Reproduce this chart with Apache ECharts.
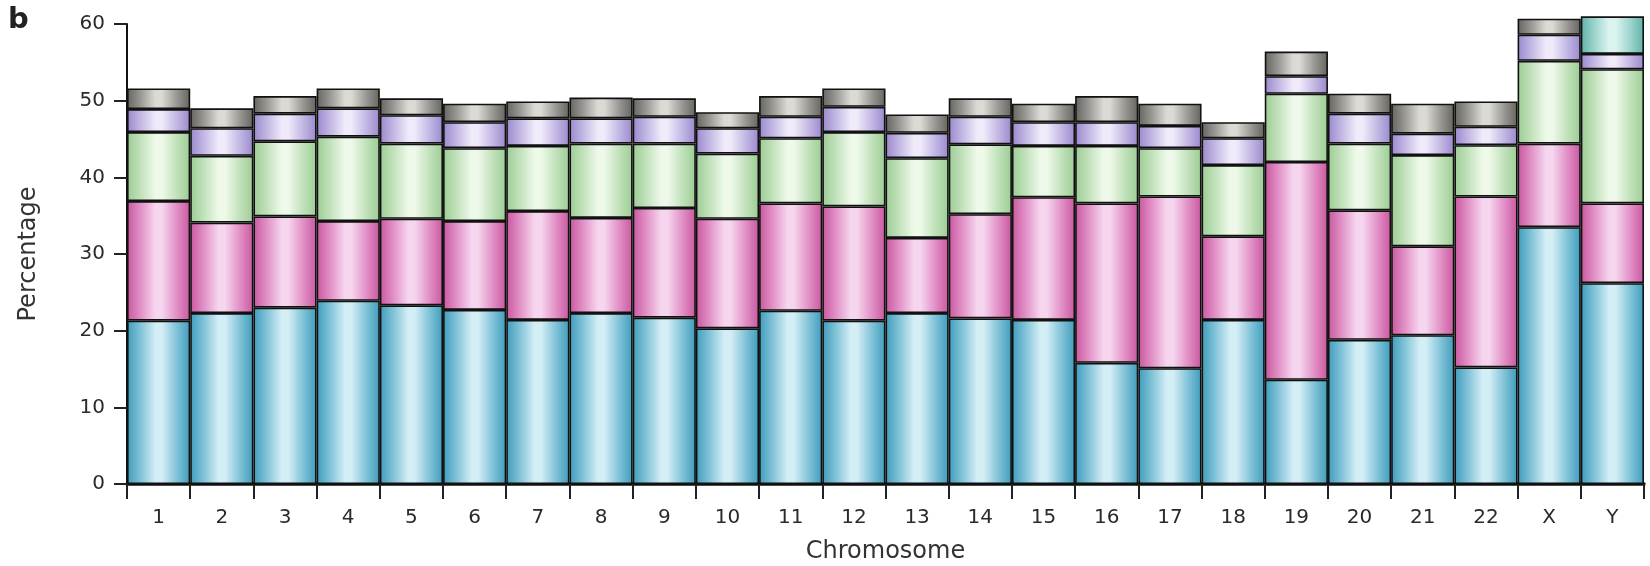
<!DOCTYPE html>
<html><head><meta charset="utf-8">
<script src="https://cdn.jsdelivr.net/npm/echarts@6/dist/echarts.min.js"></script>
<style>html,body{margin:0;padding:0;background:#fff}#c{width:1650px;height:566px}</style>
</head><body><div id="c"></div>
<script>
const categories = ['1','2','3','4','5','6','7','8','9','10','11','12','13','14','15','16','17','18','19','20','21','22','X','Y'];
const blueSeg   = [21.3,22.3,23.0,23.9,23.3,22.7,21.4,22.3,21.7,20.3,22.6,21.3,22.3,21.6,21.4,15.8,15.1,21.4,13.6,18.8,19.4,15.2,33.5,26.2];
const pinkSeg   = [15.6,11.8,11.9,10.4,11.3,11.6,14.2,12.4,14.3,14.3,14.0,14.9,9.8,13.6,16.0,20.8,22.4,10.9,28.4,16.9,11.6,22.3,10.9,10.4];
const greenSeg  = [9.0,8.7,9.8,11.0,9.8,9.5,8.5,9.7,8.4,8.5,8.5,9.7,10.4,9.1,6.7,7.5,6.3,9.3,8.9,8.7,11.9,6.7,10.8,17.5];
const purpleSeg = [3.0,3.6,3.6,3.7,3.7,3.4,3.6,3.3,3.5,3.3,2.8,3.3,3.3,3.6,3.1,3.1,2.9,3.5,2.3,3.9,2.8,2.4,3.4,2.0];
const graySeg   = [2.7,2.6,2.3,2.6,2.2,2.4,2.2,2.7,2.4,2.1,2.7,2.4,2.4,2.4,2.4,3.4,2.9,2.1,3.2,2.6,3.9,3.3,2.1,4.9];
const yTicks = [0,10,20,30,40,50,60];

function grad(edge, mid, light) {
  return new echarts.graphic.LinearGradient(0,0,1,0,[
    {offset:0,color:edge},{offset:0.2,color:mid},{offset:0.45,color:light},
    {offset:0.55,color:light},{offset:0.8,color:mid},{offset:1,color:edge}]);
}
const cBlue = grad('#3f9cbc','#7cc0d6','#d4eef6');
const cPink = grad('#c8589e','#e08cc4','#f6d6ee');
const cGreen = grad('#9ccc94','#bfe0b8','#eef9ea');
const cPurple = grad('#9a88cc','#c0b4e2','#f0eafa');
const cGray = grad('#66645e','#969490','#dcdad4');
const cTeal = grad('#5fb2a8','#98d2ca','#dcf4f0');

function mk(name, data, color) {
  return {name, type:'bar', stack:'s', data, barCategoryGap:'0%', xAxisIndex:0, yAxisIndex:0,
    itemStyle:{color, borderColor:'#111', borderWidth:1.6}, emphasis:{disabled:true}};
}
const grayData = graySeg.map((v,i)=> categories[i]==='Y' ? {value:v, itemStyle:{color:cTeal}} : v);

const PX = (484-24)/60;           // pixels per unit
const topBars = 484 - 62*PX;      // grid top for max 62

const chart = echarts.init(document.getElementById('c'), null, {renderer:'canvas'});
chart.setOption({
  animation:false,
  textStyle:{fontFamily:'DejaVu Sans'},
  grid:[{left:127, right:6, top:topBars, bottom:82, containLabel:false, outerBoundsMode:'none'},
        {left:127, right:6, top:24, bottom:82, containLabel:false, outerBoundsMode:'none'}],
  graphic:[{type:'text', left:8, top:6, style:{text:'b', font:'bold 29px "DejaVu Sans"', fill:'#222'}}],
  xAxis:[{type:'category', gridIndex:0, data:categories, boundaryGap:true,
    name:'Chromosome', nameLocation:'middle', nameGap:56,
    nameTextStyle:{fontSize:24, color:'#333'},
    axisLine:{lineStyle:{color:'#111', width:3.5}},
    axisTick:{show:true, length:15, lineStyle:{color:'#222', width:2}},
    axisLabel:{fontSize:20, color:'#2a2a2a', margin:24}},
    {type:'category', gridIndex:1, data:categories, show:false}],
  yAxis:[{type:'value', gridIndex:0, min:0, max:62, show:false, splitLine:{show:false}},
    {type:'value', gridIndex:1, min:0, max:60, interval:10,
    name:'Percentage', nameLocation:'middle', nameGap:86,
    nameTextStyle:{fontSize:24, color:'#333'},
    splitLine:{show:false},
    axisLine:{show:true, lineStyle:{color:'#111', width:2}},
    axisTick:{show:true, length:13, lineStyle:{color:'#222', width:2}},
    axisLabel:{fontSize:20, color:'#2a2a2a', margin:22, formatter:v=> yTicks.includes(v)? String(v):''}}],
  series:[mk('a',blueSeg,cBlue), mk('b',pinkSeg,cPink), mk('c',greenSeg,cGreen), mk('d',purpleSeg,cPurple), mk('e',grayData,cGray)]
});
</script></body></html>
